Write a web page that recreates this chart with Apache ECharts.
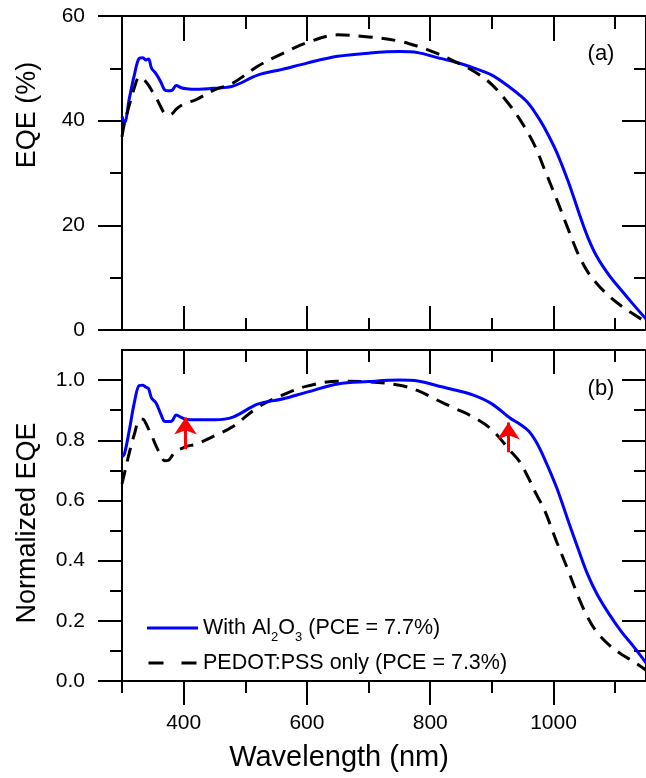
<!DOCTYPE html>
<html>
<head>
<meta charset="utf-8">
<title>EQE spectra</title>
<script src="https://cdn.jsdelivr.net/npm/echarts@6/dist/echarts.min.js"></script>
<style>
  html, body { margin: 0; padding: 0; background: #fff; }
  #chart { width: 646px; height: 778px; }
</style>
</head>
<body>
<div id="chart"></div>
<script>
// wavelength (nm)
const wl = [300, 304, 312, 320, 328, 334, 339, 343, 348, 355, 363, 369, 375, 381, 388, 396, 405, 420, 450, 480,
  520, 560, 600, 650, 700, 750, 780, 810, 840, 870, 900, 930, 945, 960, 972, 985, 1005, 1025, 1040, 1055, 1070, 1090,
  1110, 1130, 1150]

// (a) EQE in %
const eqeAl = [40.8, 39.6, 44.3, 48.7, 51.9, 52.0, 51.6, 51.8, 50.0, 49.0, 47.4, 45.9, 45.7, 45.8, 46.7, 46.3, 46.1, 46.0, 46.2, 46.6,
  48.7, 49.8, 51.0, 52.3, 52.9, 53.2, 53.0, 52.1, 51.2, 50.1, 48.7, 46.3, 44.9, 43.2, 41.2, 38.7, 34.0, 28.0, 22.8, 17.9, 14.1, 10.5,
  7.6, 4.8, 2.1]
const eqePedot = [36.9, 39.5, 43.0, 46.3, 48.3, 48.0, 47.4, 46.8, 45.8, 44.5, 42.6, 41.4, 41.1, 41.3, 42.2, 42.9, 43.4, 44.0, 45.9, 47.2,
  50.4, 52.8, 54.9, 56.4, 56.0, 55.2, 54.2, 52.9, 51.3, 49.5, 46.9, 42.8, 40.3, 37.4, 34.6, 30.8, 25.0, 18.9, 14.5, 11.2, 8.9, 6.5,
  4.6, 3.0, 1.5]

// (b) normalized EQE
const normAl = [0.745, 0.755, 0.835, 0.925, 0.982, 0.983, 0.976, 0.972, 0.940, 0.925, 0.887, 0.863, 0.862, 0.864, 0.884, 0.876, 0.869, 0.868, 0.868, 0.877,
  0.920, 0.937, 0.960, 0.987, 0.995, 1.0, 0.997, 0.982, 0.967, 0.950, 0.921, 0.873, 0.854, 0.830, 0.794, 0.740, 0.643, 0.525, 0.439, 0.356, 0.291, 0.223,
  0.164, 0.114, 0.060]
const normPedot = [0.655, 0.690, 0.760, 0.820, 0.868, 0.870, 0.855, 0.838, 0.817, 0.782, 0.750, 0.732, 0.733, 0.748, 0.765, 0.772, 0.780, 0.787, 0.815, 0.846,
  0.909, 0.950, 0.980, 0.996, 0.994, 0.983, 0.965, 0.935, 0.906, 0.877, 0.835, 0.765, 0.729, 0.672, 0.621, 0.570, 0.463, 0.361, 0.281, 0.213, 0.163, 0.120,
  0.089, 0.064, 0.036]

// ticks
const xMajor = [400, 600, 800, 1000]
const xMinor = [300, 500, 700, 900, 1100]
const yTopMajor = [0, 20, 40, 60]
const yTopMinor = [10, 30, 50]
const yBotMajor = [0, 0.2, 0.4, 0.6, 0.8, 1.0]
const yBotMinor = [0.1, 0.3, 0.5, 0.7, 0.9]

// red arrows in (b): wavelength, tail, tip
const arrows = [[403, 0.771, 0.876], [927, 0.760, 0.859]]

const AL = 'With Al2O3 (PCE = 7.7%)'
const PEDOT = 'PEDOT:PSS only (PCE = 7.3%)'
const FONT = '"Liberation Sans", Arial, sans-serif'
const BLUE = '#0000ff'

const black = { color: '#000', width: 2 }

function ax(grid, pos, range, ticks, len, inside, label) {
  return {
    type: 'value', gridIndex: grid, position: pos, min: range[0], max: range[1],
    axisLine: { show: true, onZero: false, lineStyle: black },
    axisTick: { show: true, inside: inside, length: len, customValues: ticks, lineStyle: black },
    axisLabel: label ? Object.assign({ customValues: ticks, color: '#000', fontFamily: FONT, fontSize: 21 }, label) : { show: false },
    splitLine: { show: false }
  }
}

const xr = [300, 1150]
const xAxes = [
  ax(0, 'bottom', xr, xMajor, 24, true), ax(0, 'bottom', xr, xMinor, 12, true),
  ax(0, 'top', xr, xMajor, 25, true), ax(0, 'top', xr, xMinor, 13, true),
  ax(1, 'bottom', xr, xMajor, 24, false, { margin: 32, formatter: v => String(v) }), ax(1, 'bottom', xr, xMinor, 12, false),
  ax(1, 'top', xr, xMajor, 24, true), ax(1, 'top', xr, xMinor, 12, true)
]
const yAxes = [
  ax(0, 'left', [0, 60], yTopMajor, 24, false, { margin: 37 }), ax(0, 'left', [0, 60], yTopMinor, 12, false),
  ax(0, 'right', [0, 60], yTopMajor, 24, true), ax(0, 'right', [0, 60], yTopMinor, 12, true),
  ax(1, 'left', [0, 1.1], yBotMajor, 24, false, { margin: 37, formatter: v => v.toFixed(1) }), ax(1, 'left', [0, 1.1], yBotMinor, 12, false),
  ax(1, 'right', [0, 1.1], yBotMajor, 24, true), ax(1, 'right', [0, 1.1], yBotMinor, 12, true)
]

const pts = (vals) => wl.map((w, i) => [w, vals[i]])
const solid = { color: BLUE, width: 3 }
const dashed = { color: '#000', width: 3, type: [14, 9] }

function line(name, data, xi, yi, style) {
  return {
    name: name, type: 'line', xAxisIndex: xi, yAxisIndex: yi, data: data,
    showSymbol: false, symbol: 'none', smooth: 0.35,
    lineStyle: style, itemStyle: { color: style.color }
  }
}

const series = [
  line(AL, pts(eqeAl), 0, 0, solid),
  line(PEDOT, pts(eqePedot), 0, 0, dashed),
  line(PEDOT, pts(normPedot), 4, 4, dashed),
  line(AL, pts(normAl), 4, 4, solid)
]
series[3].markLine = {
  silent: true, symbol: ['none', 'arrow'], symbolSize: 17,
  lineStyle: { color: '#ff0000', width: 3, type: 'solid' },
  label: { show: false },
  data: arrows.map(a => [{ coord: [a[0], a[1]] }, { coord: [a[0], a[2]] }])
}

const txt = (text, x, y, size, rot) => ({
  type: 'text', x: x, y: y, rotation: rot || 0,
  style: { text: text, fill: '#000', font: size + 'px ' + FONT, textAlign: 'center', textVerticalAlign: 'middle' }
})

const option = {
  animation: false,
  backgroundColor: '#fff',
  grid: [
    { left: 122, right: -2, top: 16, height: 314 },
    { left: 122, right: -2, top: 350, height: 331 }
  ],
  xAxis: xAxes,
  yAxis: yAxes,
  legend: {
    orient: 'vertical', left: 142, top: 612, itemWidth: 51, itemHeight: 3, itemGap: 8,
    data: [
      { name: AL, icon: 'rect' },
      { name: PEDOT, icon: 'path://M0,0h15v3h-15z M33,0h15v3h-15z' }
    ],
    formatter: name => name === AL
      ? '{n|With Al}{s|2}{n|O}{s|3}{n| (PCE = 7.7%)}'
      : '{n|' + name + '}',
    textStyle: {
      rich: {
        n: { fontSize: 21.5, lineHeight: 32, fontFamily: FONT, color: '#000' },
        s: { fontSize: 13, lineHeight: 13, fontFamily: FONT, color: '#000', verticalAlign: 'bottom' }
      }
    }
  },
  graphic: [
    txt('EQE (%)', 28, 115, 27, Math.PI / 2),
    txt('Normalized EQE', 28, 523, 27, Math.PI / 2),
    txt('Wavelength (nm)', 339, 758, 29),
    txt('(a)', 601, 54, 22),
    txt('(b)', 601, 389, 22)
  ],
  series: series
}

const chart = echarts.init(document.getElementById('chart'), null, { renderer: 'canvas' })
chart.setOption(option)
</script>
</body>
</html>
